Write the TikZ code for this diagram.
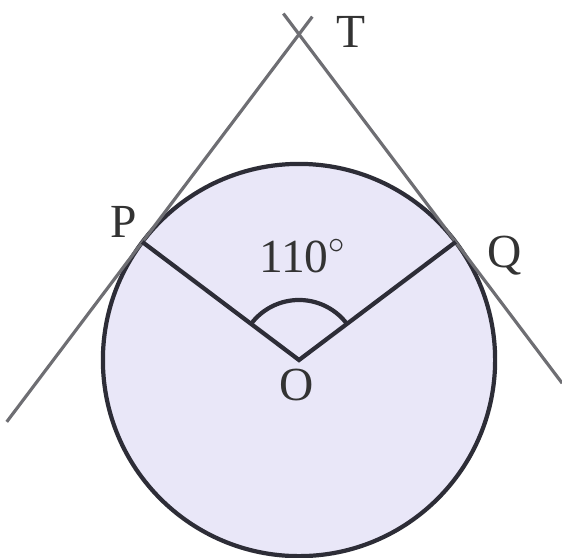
\documentclass[tikz,border=0pt]{standalone}
\usepackage{fontspec}
\setmainfont{Liberation Serif}
\usetikzlibrary{calc}
\definecolor{discfill}{RGB}{233,231,248}
\definecolor{rimline}{RGB}{45,45,55}
\definecolor{tanline}{RGB}{110,110,115}

\begin{document}
\begin{tikzpicture}[
    x=0.01cm, y=0.01cm,
    rim/.style={draw=rimline, line width=1.2pt},
    radius line/.style={draw=rimline, line width=1.2pt},
    tangent/.style={draw=tanline, line width=0.9pt},
    lbl/.style={font=\fontsize{13.5}{16}\selectfont, text=black!80, inner sep=0pt}
]
\useasboundingbox (0,0) rectangle (562,557);
\coordinate (O) at (299,197);
\coordinate (P) at ($(O)+(143:1.96cm)$);
\coordinate (Q) at ($(O)+(37:1.96cm)$);
\coordinate (T) at (299,522.7);
\coordinate (pl) at ($(T)!1.866!(P)$);
\coordinate (pu) at ($(P)!1.085!(T)$);
\coordinate (ql) at ($(T)!1.68!(Q)$);
\coordinate (qu) at ($(Q)!1.1!(T)$);
\filldraw[fill=discfill, rim] (O) circle[radius=1.96cm];
\draw[tangent] (pl) -- (pu);
\draw[tangent] (ql) -- (qu);
\draw[radius line] (P) -- (O) -- (Q);
\draw[radius line] ($(O)+(37:0.6cm)$) arc[start angle=37, end angle=143, radius=0.6cm];
\node[lbl] (tlab) at (351,525) {T};
\node[lbl] (plab) at (124,335) {P};
\node[lbl] (qlab) at (505,301) {Q};
\node[lbl] (olab) at (297,172) {O};
\node[lbl] (ang) at (303,301) {110$^{\circ}$};
\end{tikzpicture}
\end{document}
